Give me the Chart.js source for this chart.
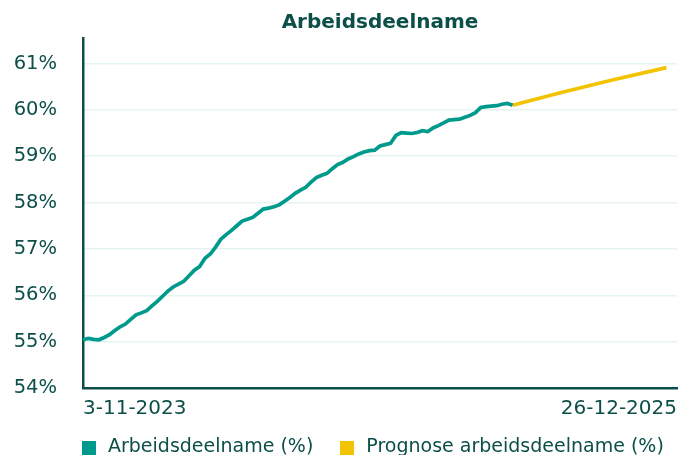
<!DOCTYPE html>
<html>
<head>
<meta charset="utf-8">
<script src="https://cdn.jsdelivr.net/npm/chart.js@4.4.1/dist/chart.umd.min.js"></script>
<style>
  html, body { margin: 0; padding: 0; background: #fff; }
  #wrap { position: relative; width: 692px; height: 455px; }
  #legend {
    position: absolute; left: 82px; top: 436px;
    display: flex; align-items: flex-start;
    font-family: "DejaVu Sans", sans-serif; font-size: 19px; line-height: 19px;
    color: #0c4f49; white-space: nowrap;
  }
  #legend .item { display: flex; align-items: flex-start; }
  #legend .item + .item { margin-left: 27px; }
  #legend .box { width: 14px; height: 14px; margin-top: 5px; margin-right: 12px; }
</style>
</head>
<body>
<div id="wrap">
  <canvas id="myChart"></canvas>
  <div id="legend"></div>
</div>
<script>
"use strict";

// Weekly dates, only first and last are shown on the axis
const startDate = new Date(2023, 10, 3);
const weekCount = 113;
const labels = [];
for (let i = 0; i < weekCount; i++) {
  const d = new Date(startDate.getTime());
  d.setDate(d.getDate() + i * 7);
  labels.push(d.getDate() + "-" + (d.getMonth() + 1) + "-" + d.getFullYear());
}

// Arbeidsdeelname (%)
const actual = [
  55.04, 55.07, 55.05, 55.04, 55.09, 55.15, 55.24, 55.32, 55.38, 55.48,
  55.58, 55.62, 55.67, 55.77, 55.87, 55.98, 56.09, 56.18, 56.24, 56.30,
  56.42, 56.54, 56.62, 56.80, 56.89, 57.04, 57.21, 57.31, 57.40, 57.50,
  57.60, 57.64, 57.68, 57.77, 57.86, 57.88, 57.91, 57.95, 58.03, 58.11,
  58.20, 58.27, 58.33, 58.44, 58.54, 58.59, 58.63, 58.73, 58.82, 58.87,
  58.94, 58.99, 59.05, 59.09, 59.12, 59.13, 59.22, 59.25, 59.28, 59.45,
  59.51, 59.50, 59.49, 59.51, 59.55, 59.53, 59.61, 59.66, 59.72, 59.78,
  59.79, 59.80, 59.84, 59.88, 59.94, 60.05, 60.07, 60.08, 60.09, 60.12,
  60.14, 60.10
];

// Prognose: a few points on the straight forecast line
const forecastPoints = [
  { week: 81, value: 60.10 },
  { week: 90, value: 60.37 },
  { week: 100, value: 60.65 },
  { week: 110, value: 60.91 }
];

const yTicks = [54, 55, 56, 57, 58, 59, 60, 61];

const forecast = new Array(weekCount).fill(null);
forecastPoints.forEach((p) => {
  forecast[p.week] = p.value;
});

const darkGreen = "#0c4f49";
const teal = "#009a8c";
const yellow = "#f2c300";
const fontFamily = "'DejaVu Sans', sans-serif";

const chart = new Chart("myChart", {
  type: "line",
  data: {
    labels: labels,
    datasets: [
      {
        label: "Arbeidsdeelname (%)",
        data: actual,
        borderColor: teal,
        backgroundColor: teal,
        borderWidth: 3.7,
        pointRadius: 0,
        tension: 0,
      },
      {
        label: "Prognose arbeidsdeelname (%)",
        data: forecast,
        borderColor: yellow,
        backgroundColor: yellow,
        borderWidth: 3.7,
        pointRadius: 0,
        spanGaps: true,
        tension: 0,
      },
    ],
  },
  options: {
    responsive: true,
    maintainAspectRatio: false,
    animation: false,
    layout: { padding: { left: 14, right: 15, top: 0, bottom: 34 } },
    plugins: {
      title: {
        display: true,
        fullSize: false,
        text: "Arbeidsdeelname",
        color: darkGreen,
        font: { family: fontFamily, size: 20, weight: "bold" },
        padding: { top: 10.5, bottom: 3.5 },
      },
      legend: { display: false },
      tooltip: { enabled: false },
    },
    scales: {
      x: {
        grid: { display: false, drawTicks: false },
        border: { display: true, color: darkGreen, width: 2.5 },
        afterFit: function (scale) {
          scale.height = 33;
        },
        ticks: {
          autoSkip: false,
          maxRotation: 0,
          align: "inner",
          color: darkGreen,
          font: { family: fontFamily, size: 20 },
          padding: 9,
          callback: function (val, i) {
            return i === 0 || i === labels.length - 1 ? labels[i] : "";
          },
        },
      },
      y: {
        min: 54,
        max: 61.55,
        afterBuildTicks: function (axis) {
          axis.ticks = yTicks.map((v) => ({ value: v }));
        },
        afterFit: function (scale) {
          scale.width = 69;
        },
        grid: { color: "#e6f4f1", drawTicks: false, lineWidth: 1.5 },
        border: { display: true, color: darkGreen, width: 2.5 },
        ticks: {
          color: darkGreen,
          font: { family: fontFamily, size: 19.5 },
          padding: 26,
          callback: function (v) {
            return v + "%";
          },
        },
      },
    },
  },
});

// HTML legend built from the datasets
const legendEl = document.getElementById("legend");
chart.data.datasets.forEach((ds) => {
  const item = document.createElement("div");
  item.className = "item";
  const box = document.createElement("span");
  box.className = "box";
  box.style.background = ds.backgroundColor;
  const text = document.createElement("span");
  text.textContent = ds.label;
  item.appendChild(box);
  item.appendChild(text);
  legendEl.appendChild(item);
});
</script>
</body>
</html>
